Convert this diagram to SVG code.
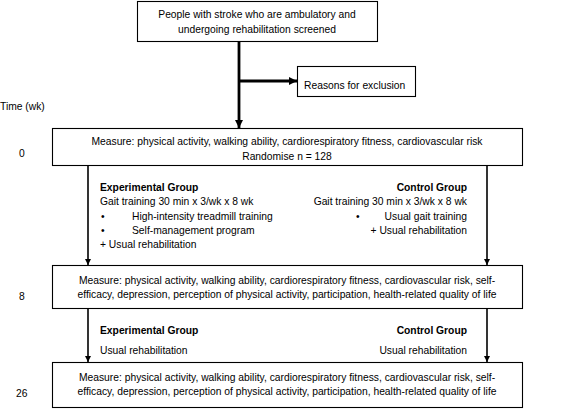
<svg xmlns="http://www.w3.org/2000/svg" width="568" height="410" viewBox="0 0 568 410">
<defs>
<style>
text{font-family:"Liberation Sans",Arial,sans-serif;font-size:10.3px;fill:#000}
.b{font-weight:bold}
.m{text-anchor:middle}
.e{text-anchor:end}
.box{fill:#fff;stroke:#000;stroke-width:1.1}
.ln{stroke:#000;stroke-width:1.6;fill:none}
.thick{stroke:#000;stroke-width:2.8;fill:none}
</style>
<marker id="ah" viewBox="0 0 10 10" refX="10" refY="5" markerWidth="6" markerHeight="6" markerUnits="userSpaceOnUse" orient="auto"><path d="M0,0L10,5L0,10z" fill="#000"/></marker>
<marker id="ah2" viewBox="0 0 10 10" refX="10" refY="5" markerWidth="8" markerHeight="8" markerUnits="userSpaceOnUse" orient="auto"><path d="M0,0L10,5L0,10z" fill="#000"/></marker>
</defs>
<rect width="568" height="410" fill="#fff"/>
<g id="connectors">
<line class="thick" x1="239" y1="41" x2="239" y2="128" marker-end="url(#ah2)"/>
<line class="thick" x1="239" y1="81" x2="297" y2="81" marker-end="url(#ah2)"/>
<line class="ln" x1="88" y1="165" x2="88" y2="265" marker-end="url(#ah)"/>
<line class="ln" x1="487" y1="165" x2="487" y2="265" marker-end="url(#ah)"/>
<line class="ln" x1="88" y1="308" x2="88" y2="362" marker-end="url(#ah)"/>
<line class="ln" x1="487" y1="308" x2="487" y2="362" marker-end="url(#ah)"/>
</g>
<g id="screened">
<rect class="box" x="137.5" y="1.5" width="240" height="40"/>
<text class="m" x="257" y="18">People with stroke who are ambulatory and</text>
<text class="m" x="257" y="33">undergoing rehabilitation screened</text>
</g>
<g id="exclusion">
<rect class="box" x="297.5" y="66.5" width="118" height="30"/>
<text x="304" y="89">Reasons for exclusion</text>
</g>
<g id="time-labels">
<text x="0" y="110">Time (wk)</text>
<text x="19" y="157">0</text>
<text x="19" y="300">8</text>
<text x="16" y="397">26</text>
</g>
<g id="week0">
<rect class="box" x="52.5" y="128.5" width="470" height="37"/>
<text class="m" x="287" y="145">Measure: physical activity, walking ability, cardiorespiratory fitness, cardiovascular risk</text>
<text class="m" x="287" y="160">Randomise n = 128</text>
</g>
<g id="exp-intervention">
<text class="b" x="100" y="191">Experimental Group</text>
<text x="100" y="205">Gait training 30 min x 3/wk x 8 wk</text>
<text x="101" y="220">•</text>
<text x="132" y="220">High-intensity treadmill training</text>
<text x="101" y="234">•</text>
<text x="132" y="234">Self-management program</text>
<text x="100" y="248">+ Usual rehabilitation</text>
</g>
<g id="ctrl-intervention">
<text class="b e" x="467" y="191">Control Group</text>
<text class="e" x="467" y="205">Gait training 30 min x 3/wk x 8 wk</text>
<text x="356" y="220">•</text>
<text class="e" x="467" y="220">Usual gait training</text>
<text class="e" x="467" y="234">+ Usual rehabilitation</text>
</g>
<g id="week8">
<rect class="box" x="52.5" y="265.5" width="470" height="43"/>
<text class="m" x="287" y="284">Measure: physical activity, walking ability, cardiorespiratory fitness, cardiovascular risk, self-</text>
<text class="m" x="287" y="298">efficacy, depression, perception of physical activity, participation, health-related quality of life</text>
</g>
<g id="exp-followup">
<text class="b" x="100" y="334">Experimental Group</text>
<text x="100" y="354">Usual rehabilitation</text>
</g>
<g id="ctrl-followup">
<text class="b e" x="467" y="334">Control Group</text>
<text class="e" x="467" y="354">Usual rehabilitation</text>
</g>
<g id="week26">
<rect class="box" x="52.5" y="362.5" width="470" height="45"/>
<text class="m" x="287" y="381">Measure: physical activity, walking ability, cardiorespiratory fitness, cardiovascular risk, self-</text>
<text class="m" x="287" y="395">efficacy, depression, perception of physical activity, participation, health-related quality of life</text>
</g>
</svg>
